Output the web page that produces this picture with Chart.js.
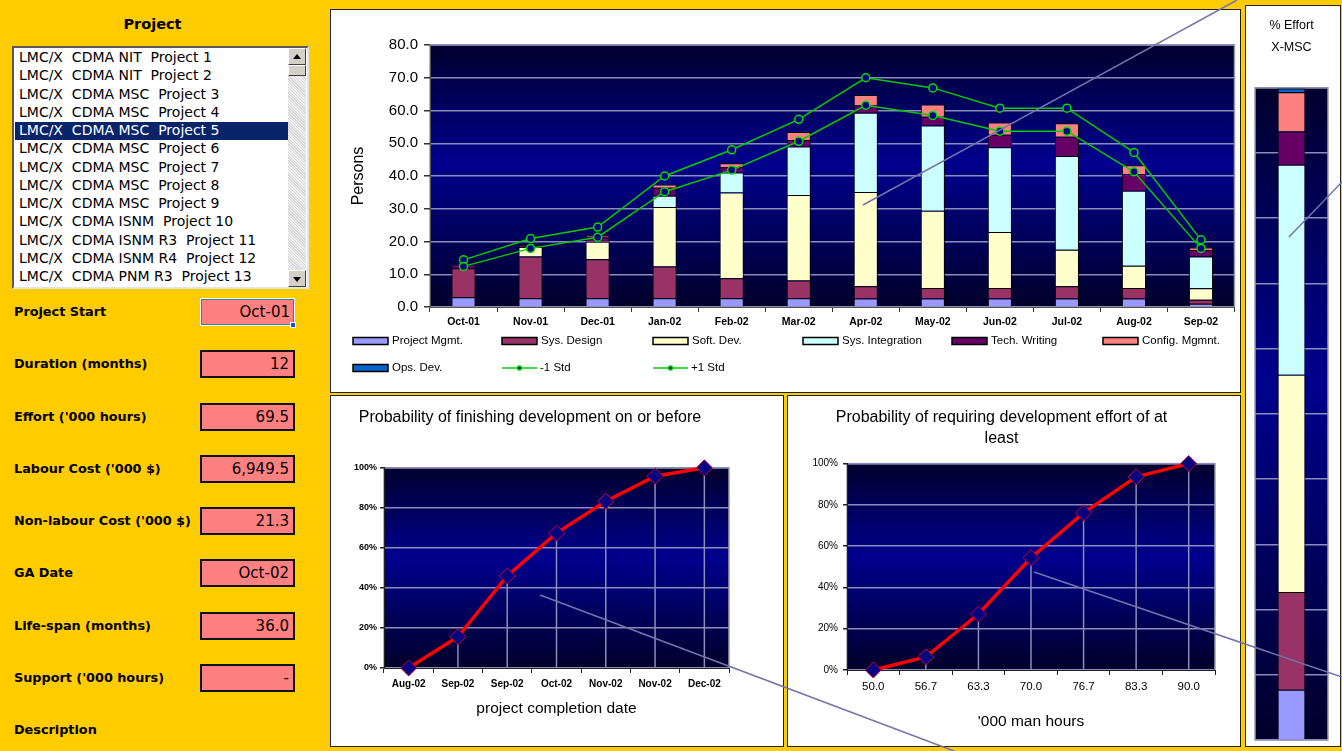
<!DOCTYPE html>
<html>
<head>
<meta charset="utf-8">
<title>Project effort</title>
<script src="https://cdn.jsdelivr.net/npm/chart.js@4.4.1/dist/chart.umd.min.js"></script>
<style>
  body { margin:0; width:1342px; height:751px; background:#ffcc00; position:relative; overflow:hidden; font-family:"Liberation Sans", Arial, sans-serif; }
  .panel { position:absolute; background:#fff; border:1px solid #222; box-sizing:border-box; }
  canvas { position:absolute; }
  #head { position:absolute; left:0; width:305px; top:16px; text-align:center; font:bold 14.5px "DejaVu Sans"; }
  #list { position:absolute; left:12px; top:46px; width:297px; height:243px; background:#fff; border:2px solid; border-color:#5a5a5a #e4e4e4 #e4e4e4 #5a5a5a; box-sizing:border-box; overflow:hidden; }
  .item { position:absolute; left:1px; width:273px; height:18.25px; line-height:18px; font:14px "DejaVu Sans"; white-space:pre; padding-left:4px; box-sizing:border-box; color:#000; }
  .item.sel { background:#0a246a; color:#fff; }
  #sb { position:absolute; left:274px; top:0; width:18px; height:239px; background:repeating-linear-gradient(45deg,#f0f0f0 0 1px,#d8d8d8 1px 2px); }
  .btn { position:absolute; left:0; width:18px; height:17px; background:#d4d0c8; border:1px solid; border-color:#fff #404040 #404040 #fff; box-sizing:border-box; }
  .btn i { position:absolute; left:4px; width:0; height:0; border-left:4px solid transparent; border-right:4px solid transparent; }
  .lab { position:absolute; left:14px; font:bold 12.8px "DejaVu Sans"; color:#000; white-space:nowrap; }
  .box { position:absolute; left:200px; width:95px; height:28px; background:#ff8080; border:2px solid #111; box-sizing:border-box; font:15px "DejaVu Sans"; text-align:right; padding-right:4px; line-height:24px; color:#000; }
  .box.cur { border:1px solid #fff; box-shadow:inset 0 0 0 1px #2a8a8a; line-height:26px; }
  #handle { position:absolute; left:290px; top:322px; width:6px; height:6px; background:#1a50e0; border:1px solid #fff; box-sizing:border-box; }
  #notes { position:absolute; left:0; top:0; pointer-events:none; }
</style>
</head>
<body>
<div id="head">Project</div>
<div id="list"></div>
<div id="fields"></div>

<div class="panel" style="left:330px;top:9px;width:911px;height:384px;"></div>
<div class="panel" style="left:330px;top:395px;width:454px;height:352px;"></div>
<div class="panel" style="left:787px;top:395px;width:454px;height:352px;"></div>
<div class="panel" style="left:1245px;top:5px;width:96px;height:742px;"></div>

<canvas id="effortChart" width="909" height="383" style="left:331px;top:8px;"></canvas>
<canvas id="finishChart" width="452" height="349" style="left:331px;top:396px;"></canvas>
<canvas id="hoursChart" width="452" height="349" style="left:788px;top:396px;"></canvas>
<canvas id="shareChart" width="93" height="739" style="left:1246px;top:6px;"></canvas>

<svg id="notes" width="1342" height="751">
  <g stroke="#7474aa" stroke-width="1.5">
    <line x1="863" y1="205" x2="1237" y2="0"/>
    <line x1="540" y1="595" x2="954" y2="751"/>
    <line x1="1034" y1="572" x2="1342" y2="677"/>
    <line x1="1289" y1="237" x2="1342" y2="182"/>
  </g>
</svg>

<script>
// projects in the list box
const projects = ['LMC/X  CDMA NIT  Project 1', 'LMC/X  CDMA NIT  Project 2', 'LMC/X  CDMA MSC  Project 3',
  'LMC/X  CDMA MSC  Project 4', 'LMC/X  CDMA MSC  Project 5', 'LMC/X  CDMA MSC  Project 6',
  'LMC/X  CDMA MSC  Project 7', 'LMC/X  CDMA MSC  Project 8', 'LMC/X  CDMA MSC  Project 9',
  'LMC/X  CDMA ISNM  Project 10', 'LMC/X  CDMA ISNM R3  Project 11', 'LMC/X  CDMA ISNM R4  Project 12',
  'LMC/X  CDMA PNM R3  Project 13'];
const selectedProject = 4;

const fieldNames = ['Project Start', 'Duration (months)', "Effort ('000 hours)", "Labour Cost ('000 $)",
  "Non-labour Cost ('000 $)", 'GA Date', 'Life-span (months)', "Support ('000 hours)", 'Description'];
const fieldValues = ['Oct-01', '12', '69.5', '6,949.5', '21.3', 'Oct-02', '36.0', '-', null];

// monthly staffing (persons)
const months = ['Oct-01', 'Nov-01', 'Dec-01', 'Jan-02', 'Feb-02', 'Mar-02', 'Apr-02', 'May-02', 'Jun-02', 'Jul-02', 'Aug-02', 'Sep-02'];
const taskNames = ['Project Mgmt.', 'Sys. Design', 'Soft. Dev.', 'Sys. Integration', 'Tech. Writing', 'Config. Mgmnt.', 'Ops. Dev.'];
const projMgmt   = [3.0, 2.7, 2.7, 2.7, 2.7, 2.7, 2.6, 2.6, 2.6, 2.6, 2.6, 1.0];
const sysDesign  = [8.8, 12.7, 11.9, 9.7, 6.1, 5.4, 3.7, 3.2, 3.2, 3.7, 3.2, 1.2];
const softDev    = [0, 2.9, 5.3, 18.1, 26.2, 26.1, 28.8, 23.6, 17.1, 11.2, 6.8, 3.5];
const sysInteg   = [0, 0, 0, 3.5, 6.1, 14.8, 24.2, 26.0, 25.9, 28.6, 22.9, 9.7];
const techWrite  = [1.2, 0.7, 1.3, 2.4, 1.6, 2.0, 2.2, 2.7, 3.8, 5.9, 5.0, 2.0];
const configMgmt = [0, 0, 0.6, 1.0, 1.2, 2.4, 3.2, 3.7, 3.7, 4.1, 2.8, 0.8];
const opsDev     = [0.2, 0.2, 0.3, 0.2, 0.2, 0.2, 0.2, 0.2, 0.2, 0.2, 0.2, 0.2];
const minusStd   = [12.4, 17.9, 21.3, 35.2, 41.8, 50.6, 61.6, 58.5, 53.7, 53.7, 41.3, 17.9];
const plusStd    = [14.4, 20.9, 24.4, 40.0, 48.0, 57.3, 70.0, 66.9, 60.7, 60.7, 47.2, 20.5];
const personTicks = [0, 10, 20, 30, 40, 50, 60, 70, 80];

// completion date distribution
const completionDates = ['Aug-02', 'Sep-02', 'Sep-02', 'Oct-02', 'Nov-02', 'Nov-02', 'Dec-02'];
const finishProb = [0, 15.6, 46.0, 67.4, 83.3, 95.8, 100];

// effort distribution
const effortHours = ['50.0', '56.7', '63.3', '70.0', '76.7', '83.3', '90.0'];
const effortProb = [0, 6.3, 27.1, 54.4, 76.1, 93.6, 100];

// share of effort per task (%)
const effortShare = [7.7, 15.0, 33.3, 32.2, 5.1, 6.0, 0.6];

const taskColors = ['#9999ff', '#993366', '#ffffcc', '#ccffff', '#660066', '#ff8080', '#0066cc'];

// ---- left panel
const list = document.getElementById('list');
projects.forEach((p, i) => {
  const d = document.createElement('div');
  d.className = 'item' + (i === selectedProject ? ' sel' : '');
  d.style.top = (1 + i * 18.25) + 'px';
  d.textContent = p;
  list.appendChild(d);
});
list.insertAdjacentHTML('beforeend',
  '<div id="sb"><div class="btn" style="top:0"><i style="top:5px;border-bottom:5px solid #000"></i></div>' +
  '<div class="btn" style="top:17px;height:11px"></div>' +
  '<div class="btn" style="top:222px"><i style="top:6px;border-top:5px solid #000"></i></div></div>');

const fields = document.getElementById('fields');
fieldNames.forEach((n, i) => {
  const cy = 312 + i * 52.25;
  fields.insertAdjacentHTML('beforeend', '<div class="lab" style="top:' + (cy - 8) + 'px">' + n + '</div>');
  if (fieldValues[i] !== null) {
    fields.insertAdjacentHTML('beforeend', '<div class="box' + (i === 0 ? ' cur' : '') + '" style="top:' + (cy - 14) + 'px">' + fieldValues[i] + '</div>');
  }
});
fields.insertAdjacentHTML('beforeend', '<div id="handle"></div>');

// ---- charts
Chart.defaults.font.family = '"Liberation Sans", Arial, sans-serif';
Chart.defaults.color = '#000';
Chart.defaults.animation = false;
Chart.defaults.events = [];
Chart.defaults.plugins.legend.display = false;
Chart.defaults.plugins.tooltip.enabled = false;

const gridColor = '#8c8cba';

const plotBg = {
  id: 'plotBg',
  beforeDraw(chart) {
    const { ctx, chartArea: a } = chart;
    const g = ctx.createLinearGradient(0, a.top, 0, a.bottom);
    g.addColorStop(0, '#00002e');
    g.addColorStop(0.45, '#00008e');
    g.addColorStop(1, '#00002a');
    ctx.save();
    ctx.fillStyle = g;
    ctx.fillRect(a.left, a.top, a.right - a.left, a.bottom - a.top);
    ctx.strokeStyle = '#a0a0a0';
    ctx.lineWidth = 1.5;
    ctx.strokeRect(a.left, a.top, a.right - a.left, a.bottom - a.top);
    ctx.restore();
  }
};

const dropLines = {
  id: 'dropLines',
  beforeDatasetsDraw(chart) {
    const { ctx, chartArea: a } = chart;
    const meta = chart.getDatasetMeta(0);
    ctx.save();
    ctx.strokeStyle = gridColor;
    ctx.lineWidth = 1.5;
    meta.data.forEach(p => {
      ctx.beginPath();
      ctx.moveTo(p.x, p.y);
      ctx.lineTo(p.x, a.bottom);
      ctx.stroke();
    });
    ctx.restore();
  }
};

// legend laid out like the sheet's legend box (6 columns)
const legendSlots = [[22, 333], [171, 333], [322, 333], [472, 333], [621, 333], [772, 333], [22, 360], [171, 360], [322, 360]];
const sheetLegend = {
  id: 'sheetLegend',
  afterDraw(chart) {
    const ctx = chart.ctx;
    ctx.save();
    ctx.font = '11.5px "Liberation Sans", Arial';
    ctx.textBaseline = 'middle';
    ctx.fillStyle = '#000';
    chart.data.datasets.forEach((ds, i) => {
      const [x, y] = legendSlots[i];
      if (ds.type === 'line') {
        ctx.strokeStyle = ds.borderColor;
        ctx.lineWidth = 1.5;
        ctx.beginPath(); ctx.moveTo(x, y); ctx.lineTo(x + 35, y); ctx.stroke();
        ctx.fillStyle = '#000080';
        ctx.beginPath(); ctx.arc(x + 17.5, y, 2, 0, Math.PI * 2); ctx.fill(); ctx.stroke();
        ctx.fillStyle = '#000';
        ctx.fillText(ds.label, x + 38, y);
      } else {
        ctx.fillStyle = ds.backgroundColor;
        ctx.fillRect(x, y - 3.5, 35, 7);
        ctx.strokeStyle = '#000';
        ctx.lineWidth = 1.5;
        ctx.strokeRect(x, y - 3.5, 35, 7);
        ctx.fillStyle = '#000';
        ctx.fillText(ds.label, x + 39, y);
      }
    });
    ctx.restore();
  }
};

const taskSeries = [projMgmt, sysDesign, softDev, sysInteg, techWrite, configMgmt, opsDev];
const effortDatasets = taskSeries.map((vals, i) => ({
  type: 'bar', label: taskNames[i], data: vals, stack: 'tasks', order: 2,
  backgroundColor: taskColors[i], borderColor: '#000', borderWidth: 1,
  barPercentage: 0.36, categoryPercentage: 1
}));
[['-1 Std', minusStd, 'm'], ['+1 Std', plusStd, 'p']].forEach(([label, vals, st]) => {
  effortDatasets.push({
    type: 'line', label, data: vals, stack: st, order: 1,
    borderColor: '#00cc00', borderWidth: 1.5, tension: 0,
    pointRadius: 4, pointBackgroundColor: '#000080', pointBorderColor: '#00dd00', pointBorderWidth: 1.5
  });
});

new Chart(document.getElementById('effortChart'), {
  type: 'bar',
  data: { labels: months, datasets: effortDatasets },
  options: {
    responsive: false,
    layout: { padding: { top: 37, right: 5 } },
    scales: {
      x: {
        stacked: true,
        grid: { offset: true, drawOnChartArea: false, tickLength: 5, color: '#333' },
        border: { color: '#555' },
        ticks: { font: { size: 10.5, weight: 'bold' }, padding: 4, maxRotation: 0, autoSkip: false },
        afterFit(s) { s.height = 84; }
      },
      y: {
        stacked: true, min: 0, max: 80,
        afterBuildTicks(s) { s.ticks = personTicks.map(v => ({ value: v })); },
        ticks: { font: { size: 15 }, padding: 6, callback: v => v.toFixed(1) },
        grid: { color: gridColor, lineWidth: 1.5, tickLength: 6, tickColor: '#333' },
        border: { color: '#555' },
        title: { display: true, text: 'Persons', font: { size: 16 }, padding: { top: 18 } },
        afterFit(s) { s.width = 99; }
      }
    }
  },
  plugins: [plotBg, sheetLegend]
});

function probChart(id, labels, values, opt) {
  return new Chart(document.getElementById(id), {
    type: 'line',
    data: {
      labels,
      datasets: [{
        data: values, borderColor: '#ff0000', borderWidth: 3.5, tension: 0, clip: false,
        pointStyle: 'rectRot', pointRadius: 8, pointBackgroundColor: '#000080',
        pointBorderColor: '#cc0033', pointBorderWidth: 1
      }]
    },
    options: {
      responsive: false,
      layout: { padding: { right: opt.right } },
      plugins: {
        title: { display: true, text: opt.title, font: { size: 16, weight: 'normal', lineHeight: 1.3 }, color: '#000', padding: opt.titlePad }
      },
      scales: {
        x: {
          offset: true,
          grid: { offset: true, drawOnChartArea: false, tickLength: 5, color: '#222' },
          border: { color: '#222' },
          ticks: { font: opt.xFont, padding: 5, maxRotation: 0, autoSkip: false },
          title: { display: true, text: opt.xTitle, font: { size: 15.5 }, padding: { top: 0, bottom: opt.xTitleBottom } },
          afterFit(s) { s.height = opt.xHeight; }
        },
        y: {
          min: 0, max: 100,
          ticks: { stepSize: 20, font: opt.yFont, padding: opt.yPad, callback: v => v + '%' },
          grid: { color: gridColor, lineWidth: 1.5, tickLength: 4, tickColor: '#222' },
          border: { color: '#222' },
          afterFit(s) { s.width = opt.yWidth; }
        }
      }
    },
    plugins: [plotBg, dropLines]
  });
}

probChart('finishChart', completionDates, finishProb, {
  title: 'Probability of finishing development on or before',
  titlePad: { top: 11, bottom: 40 },
  right: 54, yWidth: 53, xHeight: 77, yPad: 3,
  xFont: { size: 10, weight: 'bold' }, yFont: { size: 9, weight: 'bold' },
  xTitle: 'project completion date', xTitleBottom: 27
});

probChart('hoursChart', effortHours, effortProb, {
  title: ['Probability of requiring development effort of at', 'least'],
  titlePad: { top: 11, bottom: 15 },
  right: 25, yWidth: 59, xHeight: 75, yPad: 5,
  xFont: { size: 11.5 }, yFont: { size: 10 },
  xTitle: "'000 man hours", xTitleBottom: 14
});

new Chart(document.getElementById('shareChart'), {
  type: 'bar',
  data: {
    labels: ['X-MSC'],
    datasets: effortShare.map((v, i) => ({
      label: taskNames[i], data: [v], backgroundColor: taskColors[i], borderColor: '#000', borderWidth: 1,
      barPercentage: 0.38, categoryPercentage: 1
    }))
  },
  options: {
    responsive: false,
    layout: { padding: { left: 9, right: 11, bottom: 5 } },
    plugins: {
      title: { display: true, text: ['% Effort', 'X-MSC'], font: { size: 12.5, weight: 'normal', lineHeight: 1.75 }, color: '#000', padding: { top: 9, bottom: 29 } }
    },
    scales: {
      x: { stacked: true, display: false },
      y: {
        stacked: true, min: 0, max: 100,
        ticks: { display: false, stepSize: 10 },
        grid: { color: gridColor, lineWidth: 1.5, drawTicks: false },
        border: { display: false },
        afterFit(s) { s.width = 0; }
      }
    }
  },
  plugins: [plotBg]
});
</script>
</body>
</html>
